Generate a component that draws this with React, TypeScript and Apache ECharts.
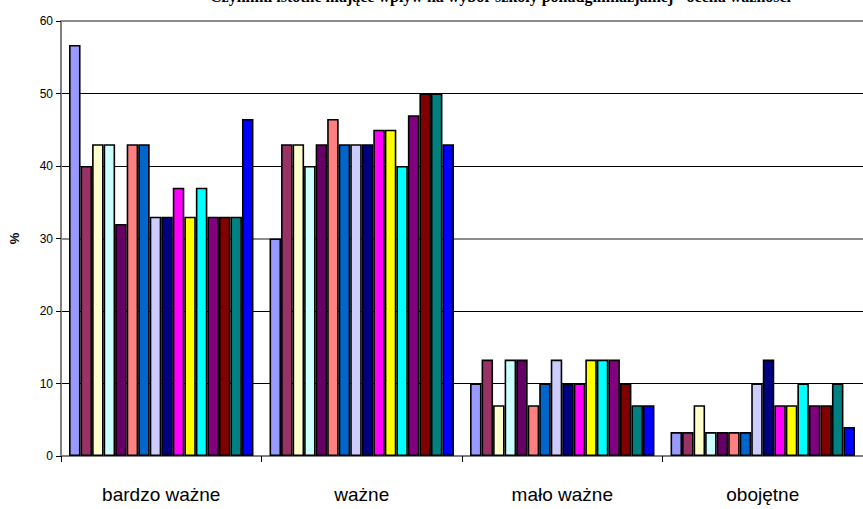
import React, { useEffect, useRef } from "react";
import * as echarts from "echarts";

// Response categories on the x axis
const categories = ["bardzo ważne", "ważne", "mało ważne", "obojętne"];

// Percentages for each of the 16 respondent groups, per category
const group01 = [56.7, 30, 10, 3.3];
const group02 = [40, 43, 13.3, 3.3];
const group03 = [43, 43, 7, 7];
const group04 = [43, 40, 13.3, 3.3];
const group05 = [32, 43, 13.3, 3.3];
const group06 = [43, 46.5, 7, 3.3];
const group07 = [43, 43, 10, 3.3];
const group08 = [33, 43, 13.3, 10];
const group09 = [33, 43, 10, 13.3];
const group10 = [37, 45, 10, 7];
const group11 = [33, 45, 13.3, 7];
const group12 = [37, 40, 13.3, 10];
const group13 = [33, 47, 13.3, 7];
const group14 = [33, 50, 10, 7];
const group15 = [33, 50, 7, 10];
const group16 = [46.5, 43, 7, 4];

const groups = [
  group01, group02, group03, group04, group05, group06, group07, group08,
  group09, group10, group11, group12, group13, group14, group15, group16,
];

const groupNames = groups.map((_, i) => `Grupa ${i + 1}`);

// Classic office chart fill palette
const palette = [
  "#9999FF", "#993366", "#FFFFCC", "#CCFFFF", "#660066", "#FF8080", "#0066CC", "#CCCCFF",
  "#000080", "#FF00FF", "#FFFF00", "#00FFFF", "#800080", "#800000", "#008080", "#0000FF",
];

const yTicks = [0, 10, 20, 30, 40, 50, 60];

const title = "Czynniki istotne mające wpływ na wybór szkoły ponadgimnazjalnej - ocena ważności";

export default function App() {
  const ref = useRef<HTMLDivElement>(null);

  useEffect(() => {
    if (!ref.current) return;
    const chart = echarts.init(ref.current, undefined, { renderer: "svg" });

    const barSeries = groups.map((values, i) => ({
      type: "bar" as const,
      name: groupNames[i],
      data: values,
      yAxisIndex: 0,
      barGap: "0%",
      barCategoryGap: "8%",
      itemStyle: {
        color: palette[i],
        borderColor: "#000000",
        borderWidth: 1.6,
      },
    }));

    chart.setOption({
      animation: false,
      backgroundColor: "#ffffff",
      title: {
        text: title,
        left: 205,
        top: -17,
        textStyle: {
          fontFamily: "Liberation Serif",
          fontWeight: "bold",
          fontSize: 16,
          color: "#000",
        },
      },
      grid: { left: 61, right: -6, top: 21, bottom: 53, containLabel: false },
      xAxis: {
        type: "category",
        data: categories,
        axisLine: { lineStyle: { color: "#808080", width: 2 } },
        axisTick: { show: true, alignWithLabel: false, length: 6, lineStyle: { color: "#000", width: 1 } },
        axisLabel: {
          fontFamily: "Liberation Sans",
          fontSize: 19,
          color: "#000",
          margin: 29,
        },
      },
      yAxis: [
        {
          type: "value",
          min: yTicks[0],
          max: yTicks[yTicks.length - 1],
          interval: 10,
          name: "%",
          nameLocation: "middle",
          nameRotate: 90,
          nameGap: 40,
          nameTextStyle: { fontFamily: "Liberation Sans", fontSize: 13, fontWeight: "bold", color: "#000" },
          axisLine: { show: true, lineStyle: { color: "#808080", width: 2 } },
          axisTick: { show: true, length: 5, lineStyle: { color: "#000", width: 1 } },
          axisLabel: {
            fontFamily: "Liberation Sans",
            fontSize: 12,
            color: "#000",
            margin: 8,
          },
          splitLine: {
            show: true,
            lineStyle: {
              color: ["#000", "#000", "#000", "#8c8c8c", "#000", "#000", "#8c8c8c"],
              width: 1,
            },
          },
        },
        {
          // grey plot-area rules at the 30 and 60 levels
          type: "value",
          min: 0,
          max: 60,
          interval: 30,
          position: "left",
          axisLine: { show: false },
          axisTick: { show: false },
          axisLabel: { show: false },
          splitLine: { show: true, lineStyle: { color: "#8c8c8c", width: 2 } },
        },
      ],
      series: barSeries,
    });

    return () => chart.dispose();
  }, []);

  return <div ref={ref} style={{ width: 863, height: 509, position: "absolute", left: 0, top: 0 }} />;
}
